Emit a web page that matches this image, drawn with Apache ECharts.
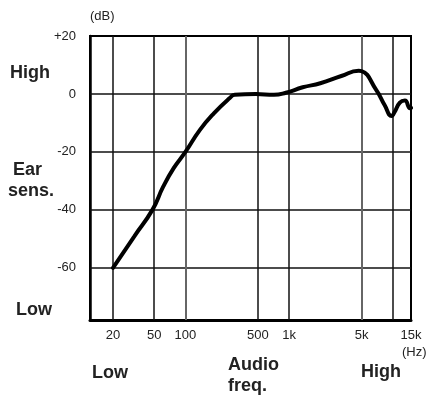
<!DOCTYPE html>
<html>
<head>
<meta charset="utf-8">
<script src="https://cdn.jsdelivr.net/npm/echarts@6/dist/echarts.min.js"></script>
<style>html,body{margin:0;padding:0;background:#fff}#c{width:433px;height:396px}</style>
</head>
<body>
<div id="c"></div>
<script>
// Frequency response (Hz, dB)
const freqHz = [20, 32, 48, 61, 77, 100, 138, 188, 266, 299, 478, 714, 929, 1353, 2000, 3190, 4700, 5000, 6920, 8340, 9760, 10460, 11710, 13100, 14670, 15000];
const levelDb = [-60, -49.2, -40, -32, -25.6, -20, -12.4, -6.7, -1.5, -0.3, 0, -0.3, 0.4, 2.3, 3.7, 6.2, 8.0, 7.9, 1.4, -3.8, -7.6, -6.1, -3.0, -2.3, -4.9, -4.8];

const xTickValues = [20, 50, 100, 500, 1000, 5000, 10000, 15000];
const xTickLabels = ['20', '50', '100', '500', '1k', '5k', '10k', '15k'];
const xGridValues = [20, 50, 100, 500, 1000, 5000, 10000];
const xGridGray = [100, 5000];
const yTickValues = [20, 0, -20, -40, -60];
const yTickLabels = ['+20', '0', '-20', '-40', '-60'];
const yGridValues = [0, -20, -40, -60];

const FONT = '"Liberation Sans", Arial, sans-serif';
const chart = echarts.init(document.getElementById('c'), null, {renderer: 'canvas'});

const gridLines = [];
yGridValues.forEach(v => gridLines.push({yAxis: v, lineStyle: {color: '#111', width: 1.5, type: 'solid'}}));
xGridValues.forEach(v => gridLines.push({xAxis: v, lineStyle: {color: xGridGray.includes(v) ? '#666' : '#111', width: xGridGray.includes(v) ? 2 : 1.5, type: 'solid'}}));

function txt(text, x, y, size, bold, align) {
  return {type: 'text', left: x, top: y, silent: true,
    style: {text: text, fill: '#222', font: (bold ? 'bold ' : '') + size + 'px ' + FONT, textAlign: align || 'left'}};
}

chart.setOption({
  animation: false,
  backgroundColor: '#fff',
  grid: {left: 90, top: 36, right: 22, bottom: 76, show: true, borderColor: '#000', borderWidth: 2, backgroundColor: 'transparent'},
  xAxis: {
    type: 'log', logBase: 10, min: 12, max: 15000,
    axisLine: {show: true, onZero: false, lineStyle: {color: '#000', width: 3}},
    axisTick: {show: false},
    splitLine: {show: false},
    minorSplitLine: {show: false},
    axisLabel: {
      show: true, customValues: xTickValues, margin: 9,
      showMinLabel: true, showMaxLabel: true, hideOverlap: false, alignMaxLabel: 'center',
      color: '#222', fontFamily: FONT, fontSize: 13,
      formatter: v => { const i = xTickValues.findIndex(t => Math.abs(t - v) / t < 1e-6); return i >= 0 ? xTickLabels[i] : ''; }
    }
  },
  yAxis: {
    type: 'value', min: -78, max: 20,
    axisLine: {show: true, lineStyle: {color: '#000', width: 2.5}},
    axisTick: {show: false},
    splitLine: {show: false},
    axisLabel: {
      show: true, customValues: yTickValues, margin: 14,
      showMinLabel: true, showMaxLabel: true,
      color: '#222', fontFamily: FONT, fontSize: 13,
      formatter: v => { const i = yTickValues.indexOf(v); return i >= 0 ? yTickLabels[i] : ''; }
    }
  },
  series: [
    {
      type: 'line', data: [], z: 1, silent: true,
      markLine: {silent: true, symbol: ['none', 'none'], label: {show: false}, animation: false, data: gridLines}
    },
    {
      type: 'line', z: 5, silent: true,
      data: freqHz.map((f, i) => [f, levelDb[i]]),
      smooth: 0.5, showSymbol: false, symbol: 'none',
      lineStyle: {color: '#000', width: 4, cap: 'round', join: 'round'}
    }
  ],
  graphic: [
    txt('(dB)', 90, 10, 13, false),
    txt('High', 10, 64, 18, true),
    txt('Ear', 13, 161, 18, true),
    txt('sens.', 8, 182, 18, true),
    txt('Low', 16, 301, 18, true),
    txt('(Hz)', 402, 346, 13, false),
    txt('Low', 92, 364, 18, true),
    txt('Audio', 228, 356, 18, true),
    txt('freq.', 228, 377, 18, true),
    txt('High', 361, 363, 18, true)
  ]
});
</script>
</body>
</html>
